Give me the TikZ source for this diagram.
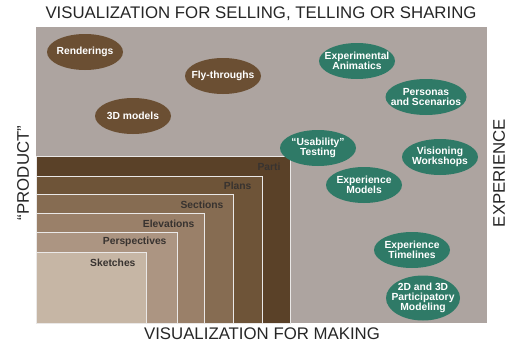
\documentclass[tikz,border=0pt]{standalone}
\usepackage{fontspec}
\setmainfont{Liberation Sans}
\usetikzlibrary{shapes.geometric}
\definecolor{bggray}{HTML}{ADA4A0}
\definecolor{partic}{HTML}{5A4128}
\definecolor{plansc}{HTML}{6E5438}
\definecolor{sectc}{HTML}{866C52}
\definecolor{elevc}{HTML}{9A8069}
\definecolor{perspc}{HTML}{AC9582}
\definecolor{sketchc}{HTML}{C6B6A5}
\definecolor{ovalbrown}{HTML}{6B4F33}
\definecolor{ovalgreen}{HTML}{2F7A67}
\definecolor{labelgray}{HTML}{383330}
\begin{document}
\begin{tikzpicture}[x=1pt, y=-1pt,
  brown node/.style={ellipse,fill=ovalbrown,text=white,minimum width=76pt,minimum height=36pt,inner xsep=-12pt,inner ysep=-4pt,align=center},
  green node/.style={ellipse,fill=ovalgreen,text=white,minimum width=76pt,minimum height=36pt,inner xsep=-12pt,inner ysep=-4pt,align=center},
  stack box/.style={draw=white!75!bggray,line width=0.7pt},
  box label/.style={anchor=east,text=labelgray,font=\bfseries\fontsize{10.3}{11}\selectfont},
  axis label/.style={font=\fontsize{16.8}{18}\selectfont,text=black!85}]
\useasboundingbox (0,0) rectangle (512,343);
\fill[bggray] (36,27) rectangle (487,323);%background
% nested boxes, biggest first
\draw[stack box,fill=partic] (36,323) rectangle (290,156);
\draw[stack box,fill=plansc] (36,323) rectangle (262,176);
\draw[stack box,fill=sectc] (36,323) rectangle (233,194);
\draw[stack box,fill=elevc] (36,323) rectangle (204,213);
\draw[stack box,fill=perspc] (36,323) rectangle (177,232);
\draw[stack box,fill=sketchc] (36,323) rectangle (146,252);
\node[box label] (parti) at (284,167) {Parti};
\node[box label] (plans) at (255,186) {Plans};
\node[box label] (sect) at (227,205) {Sections};
\node[box label] (elev) at (198,224) {Elevations};
\node[box label] (persp) at (170,242) {Perspectives};
\node[box label] (sketch) at (139,263) {Sketches};
\begin{scope}[every node/.style={font=\bfseries\fontsize{10.3}{10}\selectfont}]
\node[brown node] (rend) at (85,52) {Renderings};
\node[brown node] (fly) at (223,76) {Fly-throughs};
\node[brown node] (models) at (133,116) {3D models};
\node[green node] (anim) at (357,61) {Experimental\\Animatics};
\node[green node,minimum width=81pt] (pers) at (426,97) {Personas\\and Scenarios};
\node[green node] (usab) at (318,148) {“Usability”\\Testing};
\node[green node] (vision) at (440,157) {Visioning\\Workshops};
\node[green node] (expmod) at (364,185) {Experience\\Models};
\node[green node] (timel) at (412,250) {Experience\\Timelines};
\node[green node,minimum width=74pt,minimum height=45pt] (partic) at (423,298) {2D and 3D\\Participatory\\Modeling};
\end{scope}
\node[axis label] (top) at (261,14) {VISUALIZATION FOR SELLING, TELLING OR SHARING};
\node[axis label] (bottom) at (262,334) {VISUALIZATION FOR MAKING};
\node[axis label,rotate=90] (left) at (23,173) {“PRODUCT”};
\node[axis label,rotate=90] (right) at (499,173) {EXPERIENCE};
\end{tikzpicture}
\end{document}
